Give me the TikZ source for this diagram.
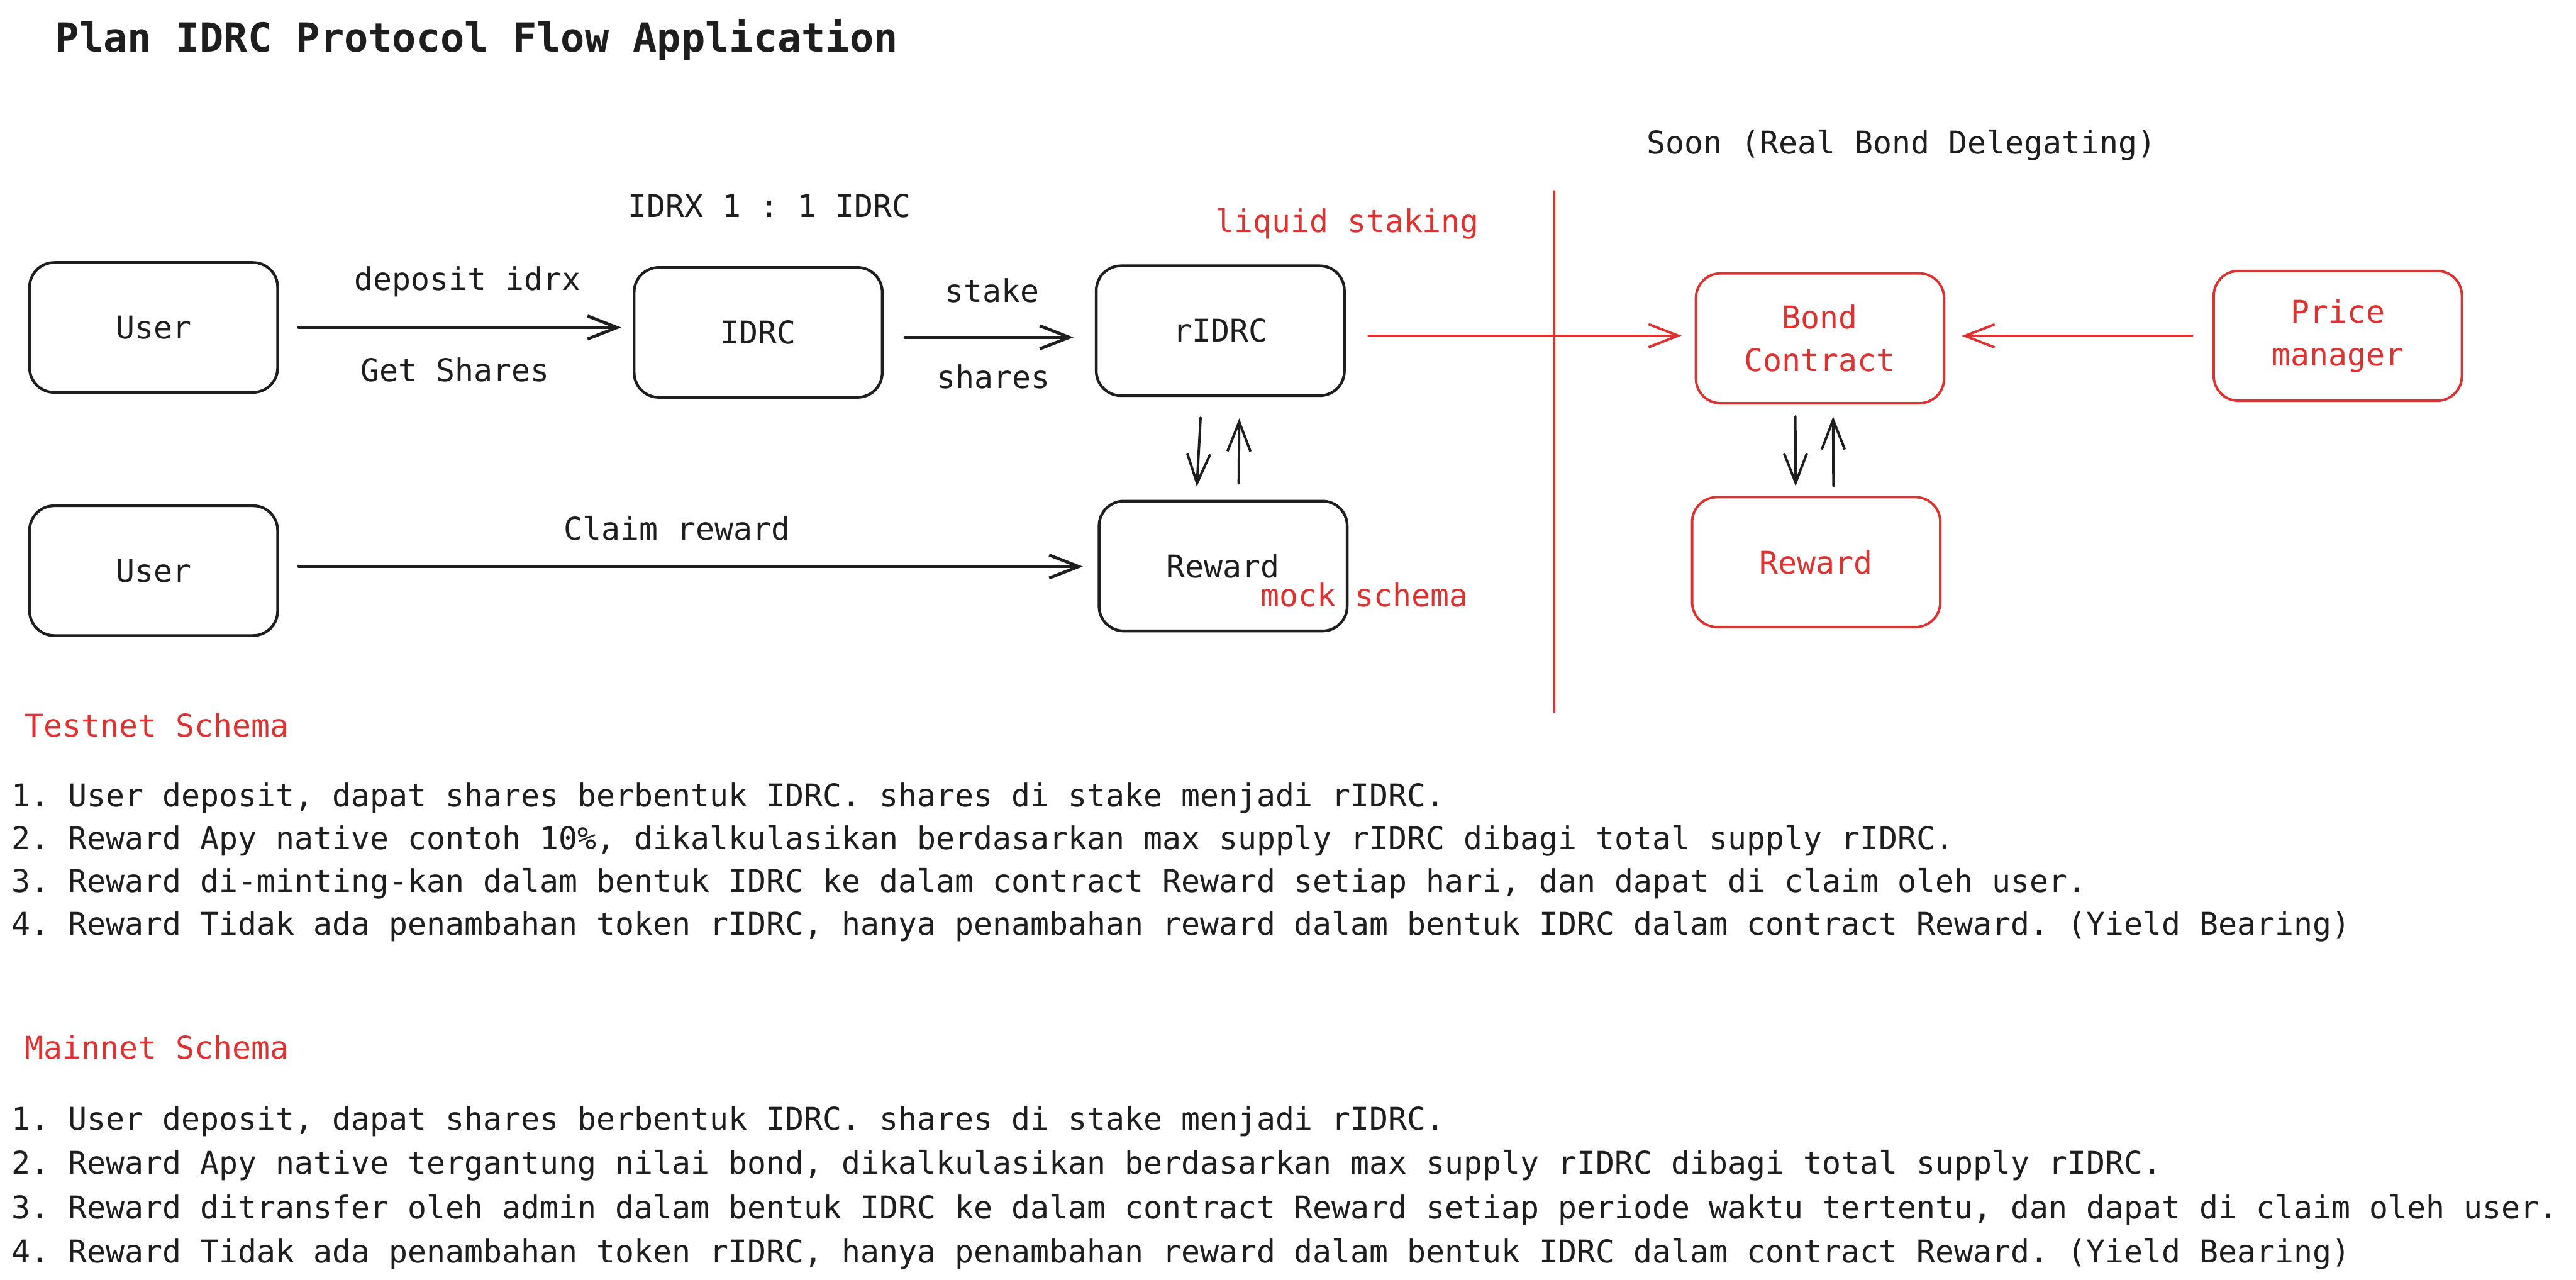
\documentclass[tikz,border=0pt]{standalone}
\usepackage{fontspec}
\setmainfont{DejaVu Sans Mono}
\usetikzlibrary{arrows.meta,calc}
\definecolor{ink}{HTML}{1E1E1E}
\definecolor{exred}{HTML}{E03131}
\newcommand\dgBody{\fontsize{21.7pt}{29.5pt}\selectfont}
\newcommand\dgTitle{\fontsize{27.7pt}{33pt}\selectfont\bfseries}
\frenchspacing
\begin{document}
\begin{tikzpicture}[x=0.04cm,y=-0.04cm,
  box/.style={draw=ink, line width=1.9pt, rounded corners=0.6cm, minimum width=6.04cm, minimum height=3.16cm, text=ink, inner sep=0pt, align=center, font=\dgBody},
  rbox/.style={box, draw=exred, text=exred, line width=1.7pt},
  lbl/.style={inner sep=0pt, font=\dgBody, text=ink, anchor=base},
  arr/.style={draw=ink, line width=2.1pt, line cap=round, line join=round, -{Straight Barb[length=0.72cm,width=0.56cm]}},
  varr/.style={arr, line width=1.7pt},
  rarr/.style={arr, draw=exred, line width=1.7pt}]
\useasboundingbox (0,0) rectangle (1568,779);
\fill[white] (0,0) rectangle (1568,779);

% title
\node[lbl, font=\dgTitle, anchor=base west] (title) at (33.5,31.4) {Plan IDRC Protocol Flow Application};

% boxes
\node[box] (user1) at (93.5,199.3) {User};
\node[box] (idrc) at (461.5,202.3) {IDRC};
\node[box] (ridrc) at (742.8,201.3) {rIDRC};
\node[box] (user2) at (93.5,347.3) {User};
\node[box] (reward) at (744.5,344.5) {Reward};
\node[rbox] (bond) at (1107.8,205.9) {Bond\\Contract};
\node[rbox] (price) at (1423,204.4) {Price\\manager};
\node[rbox] (reward2) at (1105.5,342.1) {Reward};

% labels
\node[lbl] (ratio) at (468.5,132.3) {IDRX 1 : 1 IDRC};
\node[lbl, text=exred] (liquid) at (820,141.5) {liquid staking};
\node[lbl] (deplbl) at (284.5,176.7) {deposit idrx};
\node[lbl] (getlbl) at (277,232) {Get Shares};
\node[lbl] (stakelbl) at (604,183.8) {stake};
\node[lbl] (shareslbl) at (604.5,236.4) {shares};
\node[lbl] (claimlbl) at (412,328.6) {Claim reward};
\node[lbl, text=exred, anchor=base west] (mock) at (767.3,369.2) {mock schema};
\node[lbl] (soon) at (1157.5,93.6) {Soon (Real Bond Delegating)};

% connectors
\draw[arr] ($(user1.east)+(12,0)$) -- ($(user1.east -| idrc.west)+(-7,0)$);
\draw[arr] ($(idrc.east)+(13,3)$) -- ($(idrc.east -| ridrc.west)+(-13,3)$);
\draw[arr] ($(user2.east)+(12,-2.5)$) -- ($(user2.east -| reward.west)+(-9,-2.5)$);
\draw[rarr] ($(ridrc.east)+(14,3)$) -- ($(ridrc.east -| bond.west)+(-8,3)$);
\draw[rarr] ($(price.west)+(-12.6,0)$) -- ($(price.west -| bond.east)+(10,0)$);
\draw[varr] ($(ridrc.south)+(-12,12.5)$) -- ($(reward.north)+(-16,-8)$);
\draw[varr] ($(reward.north)+(9.5,-10)$) -- ($(ridrc.south)+(11.5,13)$);
\draw[varr] ($(bond.south)+(-15,7.3)$) -- ($(reward2.north)+(-12.5,-6)$);
\draw[varr] ($(reward2.north)+(10.5,-6)$) -- ($(bond.south)+(8,7.3)$);

% divider
\coordinate (divtop) at (946,116.5);
\coordinate (divbot) at (946,433);
\draw[exred, line width=1.7pt, line cap=round] (divtop) -- (divbot);

% testnet schema
\node[lbl, text=exred, anchor=base west] (testnet) at (15,448.6) {Testnet Schema};
\node[lbl, anchor=base west] (t1) at (7,490.8) {1. User deposit, dapat shares berbentuk IDRC. shares di stake menjadi rIDRC.};
\node[lbl, anchor=base west] (t2) at (7,517) {2. Reward Apy native contoh 10\%, dikalkulasikan berdasarkan max supply rIDRC dibagi total supply rIDRC.};
\node[lbl, anchor=base west] (t3) at (7,543.1) {3. Reward di-minting-kan dalam bentuk IDRC ke dalam contract Reward setiap hari, dan dapat di claim oleh user.};
\node[lbl, anchor=base west] (t4) at (7,569.2) {4. Reward Tidak ada penambahan token rIDRC, hanya penambahan reward dalam bentuk IDRC dalam contract Reward. (Yield Bearing)};

% mainnet schema
\node[lbl, text=exred, anchor=base west] (mainnet) at (15,644.3) {Mainnet Schema};
\node[lbl, anchor=base west] (m1) at (7,687.7) {1. User deposit, dapat shares berbentuk IDRC. shares di stake menjadi rIDRC.};
\node[lbl, anchor=base west] (m2) at (7,714.4) {2. Reward Apy native tergantung nilai bond, dikalkulasikan berdasarkan max supply rIDRC dibagi total supply rIDRC.};
\node[lbl, anchor=base west] (m3) at (7,741.6) {3. Reward ditransfer oleh admin dalam bentuk IDRC ke dalam contract Reward setiap periode waktu tertentu, dan dapat di claim oleh user.};
\node[lbl, anchor=base west] (m4) at (7,768.3) {4. Reward Tidak ada penambahan token rIDRC, hanya penambahan reward dalam bentuk IDRC dalam contract Reward. (Yield Bearing)};
\end{tikzpicture}
\end{document}
